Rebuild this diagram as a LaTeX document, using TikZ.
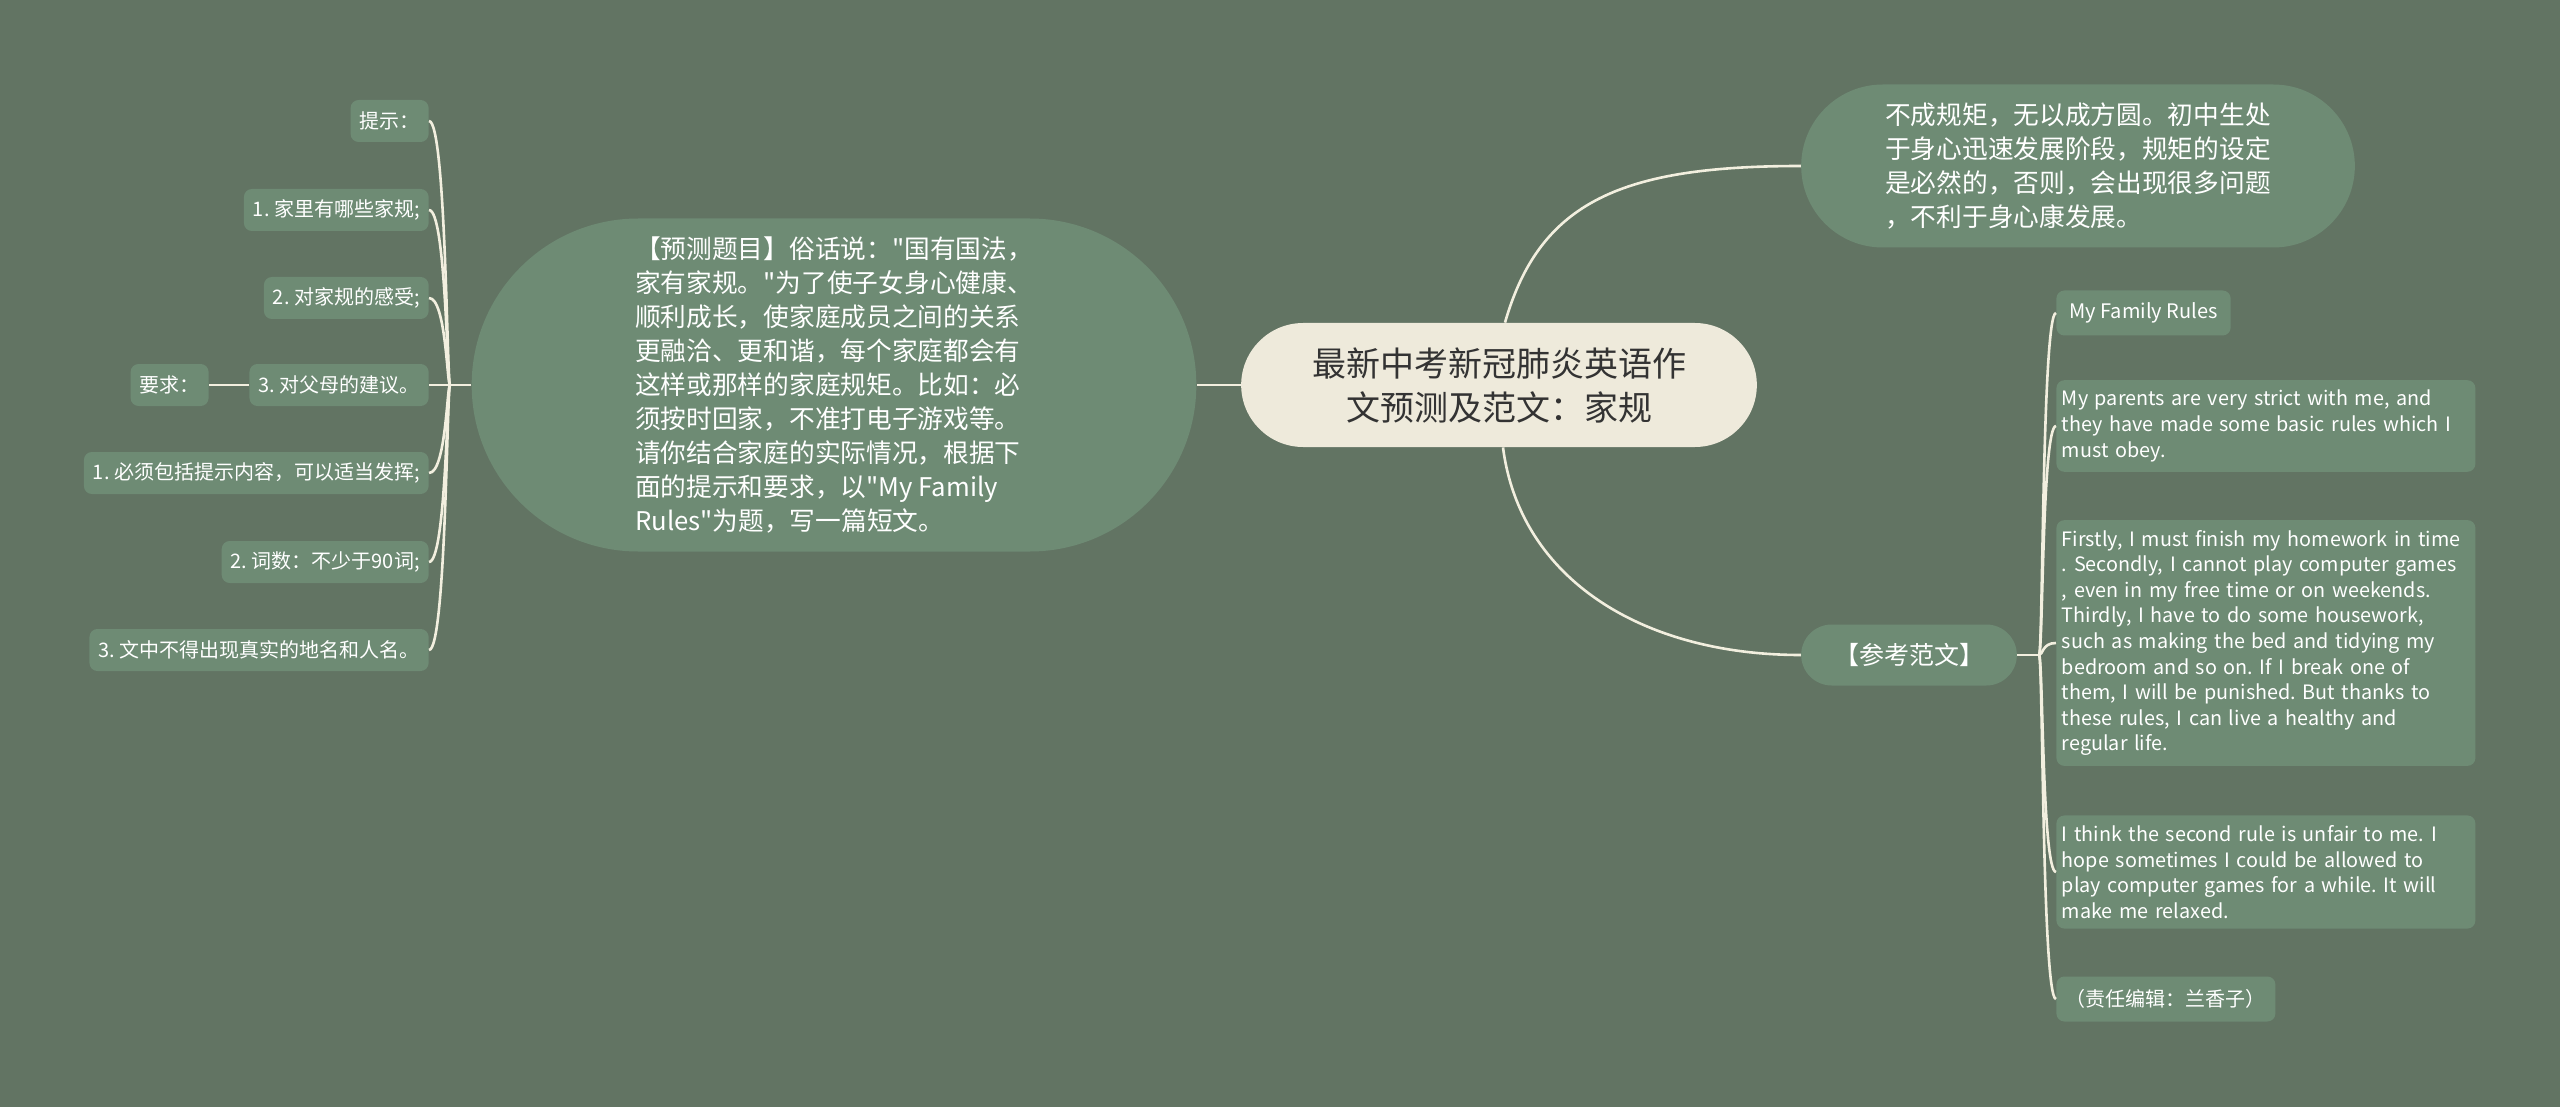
\documentclass[tikz,border=0pt]{standalone}
\usepackage{fontspec}
\setmainfont{Noto Sans CJK SC}
\newfontfamily\cjkfont{Noto Sans CJK SC}
\usepackage{xcolor}
\usepackage{tikz}
\usetikzlibrary{calc}
\usetikzlibrary{shapes.misc}
\frenchspacing

\definecolor{bgGreen}{HTML}{627463}
\definecolor{boxGreen}{HTML}{6E8B74}
\definecolor{rootCream}{HTML}{EEEADB}
\definecolor{lineCream}{HTML}{F2EFDF}

\begin{document}
\begin{tikzpicture}[x=0.5pt,y=-0.5pt,
  link/.style={draw=lineCream,line width=1.3pt},
  leaf/.style={fill=boxGreen,text=white,rounded corners=4pt,anchor=east,inner xsep=4.5pt,inner ysep=0pt,minimum height=21pt,font=\cjkfont\fontsize{10}{12}\selectfont},
  tag/.style={fill=boxGreen,text=white,rounded corners=4pt,anchor=west,inner xsep=4.75pt,inner ysep=0pt,minimum height=22.5pt,font=\cjkfont\fontsize{10}{12}\selectfont},
  para/.style={fill=boxGreen,text=white,rounded corners=4pt,anchor=west,text width=204pt,inner xsep=2.75pt,inner ysep=5pt,align=left,font=\cjkfont\fontsize{9.9}{12.8}\selectfont},
  bubble/.style={rounded rectangle,fill=boxGreen,text=white,align=left,font=\cjkfont\fontsize{12.85}{17}\selectfont}]

% Background
\fill[bgGreen] (0,0) rectangle (2560,1107);
\useasboundingbox (0,0) rectangle (2560,1107);

% Root and main branches
\node[rounded rectangle,fill=rootCream,text=black!80,minimum width=264.5pt,minimum height=62pt,align=center,font=\cjkfont\fontsize{17}{22}\selectfont] (root) at (1499,385) {最新中考新冠肺炎英语作\\文预测及范文：家规};
\node[bubble,minimum width=369pt,minimum height=166.5pt] (topic) at (834,385) {【预测题目】俗话说："国有国法，\\家有家规。"为了使子女身心健康、\\顺利成长，使家庭成员之间的关系\\更融洽、更和谐，每个家庭都会有\\这样或那样的家庭规矩。比如：必\\须按时回家，不准打电子游戏等。\\请你结合家庭的实际情况，根据下\\面的提示和要求，以"My Family\\Rules"为题，写一篇短文。};
\node[bubble,minimum width=283.5pt,minimum height=81.5pt] (note) at (2078,166) {不成规矩，无以成方圆。初中生处\\于身心迅速发展阶段，规矩的设定\\是必然的，否则，会出现很多问题\\，不利于身心康发展。};
\node[rounded rectangle,fill=boxGreen,text=white,minimum width=114.5pt,minimum height=30.5pt,font=\cjkfont\fontsize{12.5}{15}\selectfont] (sample) at (1909,655) {【参考范文】};

% Left leaves
\node[leaf] (hint) at (429,121) {提示：};
\node[leaf] (h1) at (429,210) {1. 家里有哪些家规;};
\node[leaf] (h2) at (429,298) {2. 对家规的感受;};
\node[leaf] (h3) at (429,385) {3. 对父母的建议。};
\node[leaf] (req) at (209,385) {要求：};
\node[leaf] (r1) at (429,473) {1. 必须包括提示内容，可以适当发挥;};
\node[leaf] (r2) at (429,562) {2. 词数：不少于90词;};
\node[leaf] (r3) at (429,650) {3. 文中不得出现真实的地名和人名。};

% Right leaves
\node[tag,inner xsep=6.5pt] (p0) at (2056,313) {My Family Rules};
\node[para] (p1) at (2056,426) {My parents are very strict with me, and\\they have made some basic rules which I\\must obey.};
\node[para] (p2) at (2056,643) {Firstly, I must finish my homework in time\\. Secondly, I cannot play computer games\\, even in my free time or on weekends.\\Thirdly, I have to do some housework,\\such as making the bed and tidying my\\bedroom and so on. If I break one of\\them, I will be punished. But thanks to\\these rules, I can live a healthy and\\regular life.};
\node[para] (p3) at (2056,872) {I think the second rule is unfair to me. I\\hope sometimes I could be allowed to\\play computer games for a while. It will\\make me relaxed.};
\node[tag] (p4) at (2056,999) {（责任编辑：兰香子）};

% Left connectors
\coordinate (lsplit) at (450,385);
\draw[link] (topic.west) -- (lsplit);
\draw[link] (h3.east) -- (lsplit);
\foreach \n in {hint,h1,h2,r1,r2,r3}
  \draw[link] (\n.east) .. controls +(17,0) and +(-3,0) .. (lsplit);
\draw[link] (req.east) -- (h3.west);

% Root connectors
\draw[link] (root.west) -- (topic.east);
\draw[link] ([xshift=3pt]root.north) .. controls +(35,-122) and +(-178,0) .. (note.west);
\draw[link] ([xshift=2pt]root.south) .. controls +(17,132) and +(-158,0) .. (sample.west);

% Right connectors
\coordinate (rsplit) at (2039,655);
\draw[link] (sample.east) -- (rsplit);
\foreach \n in {p0,p1,p2,p3,p4}
  \draw[link] (rsplit) .. controls +(4,0) and +(-14,0) .. (\n.west);
\end{tikzpicture}
\end{document}
